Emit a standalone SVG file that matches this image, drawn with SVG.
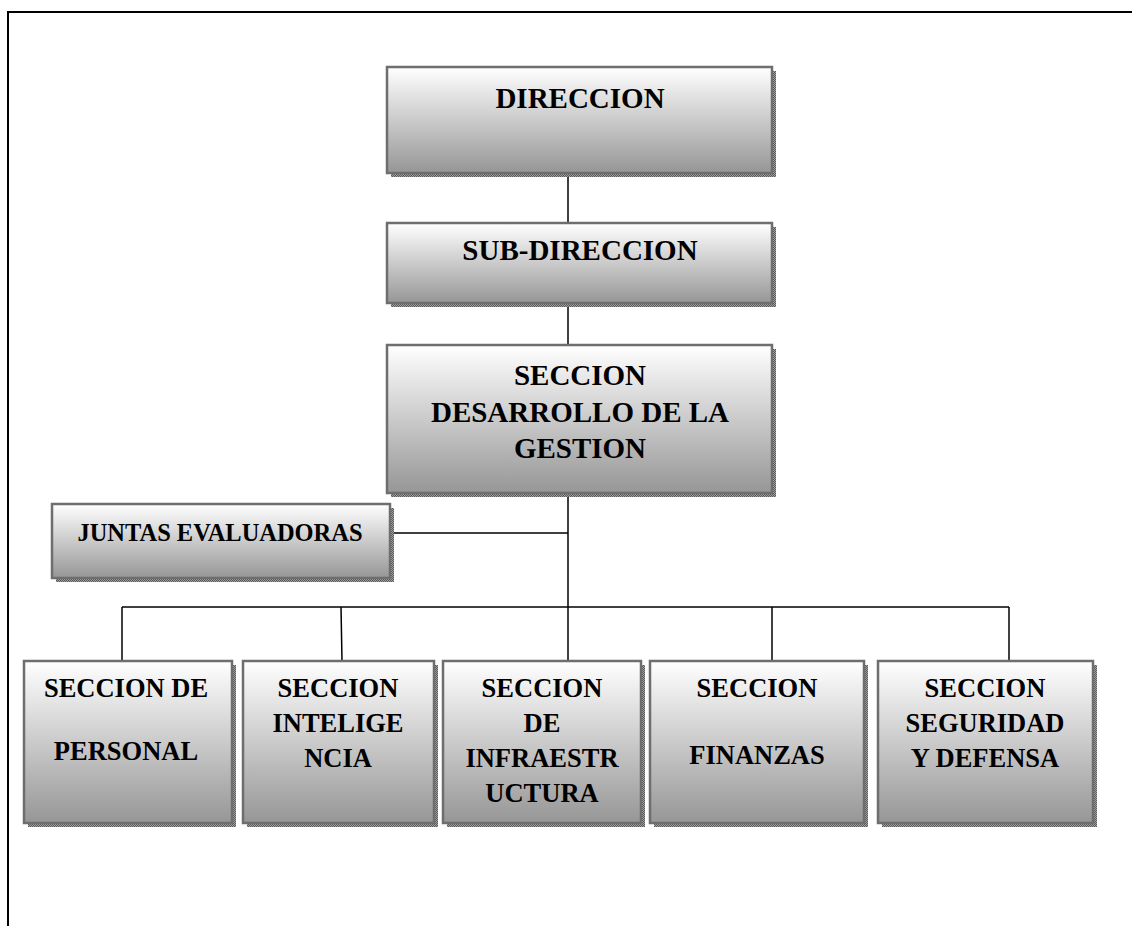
<svg xmlns="http://www.w3.org/2000/svg" width="1132" height="926" viewBox="0 0 1132 926">
  <defs>
    <linearGradient id="boxFill" x1="0" y1="0" x2="0" y2="1">
      <stop offset="0" stop-color="#ffffff"/>
      <stop offset="1" stop-color="#969696"/>
    </linearGradient>
    <pattern id="shadowDots" width="2" height="2" patternUnits="userSpaceOnUse">
      <rect width="2" height="2" fill="#a0a0a0"/>
      <rect width="1" height="1" fill="#5a5a5a"/>
      <rect x="1" y="1" width="1" height="1" fill="#5a5a5a"/>
    </pattern>
  </defs>
  <style>
    .shadow { fill: url(#shadowDots); }
    .box { fill: url(#boxFill); stroke: #6e6e6e; stroke-width: 2.5; }
    .lbl { font-family: "Liberation Serif", "Times New Roman", serif; font-weight: bold; fill: #000; text-anchor: middle; }
    .big { font-size: 29px; }
    .small { font-size: 26.5px; }
    .conn { stroke: #000; stroke-width: 1.5; fill: none; }
    .frame { stroke: #000; stroke-width: 2; fill: none; }
  </style>

  <rect width="1132" height="926" fill="#ffffff"/>

  <!-- page frame -->
  <path class="frame" d="M8,926 V12 H1132"/>

  <!-- connectors -->
  <g id="connectors">
    <line class="conn" x1="568" y1="173" x2="568" y2="223"/>
    <line class="conn" x1="568" y1="303" x2="568" y2="345"/>
    <line class="conn" x1="568" y1="493" x2="568" y2="607"/>
    <line class="conn" x1="390" y1="533" x2="568" y2="533"/>
    <line class="conn" x1="122" y1="607" x2="1009" y2="607"/>
    <line class="conn" x1="122" y1="607" x2="122" y2="661"/>
    <line class="conn" x1="341" y1="607" x2="342" y2="661"/>
    <line class="conn" x1="568" y1="607" x2="568" y2="661"/>
    <line class="conn" x1="772" y1="607" x2="772" y2="661"/>
    <line class="conn" x1="1009" y1="607" x2="1009" y2="661"/>
  </g>

  <g id="direccion">
    <rect class="shadow" x="391" y="71" width="385" height="106"/>
    <rect class="box" x="387" y="67" width="385" height="106"/>
    <text class="lbl big" x="580" y="108">DIRECCION</text>
  </g>

  <g id="sub-direccion">
    <rect class="shadow" x="391" y="227" width="385" height="80"/>
    <rect class="box" x="387" y="223" width="385" height="80"/>
    <text class="lbl big" x="580" y="260">SUB-DIRECCION</text>
  </g>

  <g id="seccion-desarrollo">
    <rect class="shadow" x="391" y="349" width="385" height="148"/>
    <rect class="box" x="387" y="345" width="385" height="148"/>
    <text class="lbl big" x="580" y="385">SECCION</text>
    <text class="lbl big" x="580" y="422">DESARROLLO DE LA</text>
    <text class="lbl big" x="580" y="458">GESTION</text>
  </g>

  <g id="juntas-evaluadoras">
    <rect class="shadow" x="56" y="508" width="338" height="74"/>
    <rect class="box" x="52" y="504" width="338" height="74"/>
    <text class="lbl" x="220" y="541" font-size="25" textLength="285" lengthAdjust="spacingAndGlyphs">JUNTAS EVALUADORAS</text>
  </g>

  <g id="seccion-personal">
    <rect class="shadow" x="28" y="665" width="208" height="162"/>
    <rect class="box" x="24" y="661" width="208" height="162"/>
    <text class="lbl small" x="126" y="697">SECCION DE</text>
    <text class="lbl small" x="126" y="760">PERSONAL</text>
  </g>

  <g id="seccion-inteligencia">
    <rect class="shadow" x="247" y="665" width="191" height="162"/>
    <rect class="box" x="243" y="661" width="191" height="162"/>
    <text class="lbl small" x="338" y="697">SECCION</text>
    <text class="lbl small" x="338" y="732">INTELIGE</text>
    <text class="lbl small" x="338" y="767">NCIA</text>
  </g>

  <g id="seccion-infraestructura">
    <rect class="shadow" x="447" y="665" width="198" height="162"/>
    <rect class="box" x="443" y="661" width="198" height="162"/>
    <text class="lbl small" x="542" y="697">SECCION</text>
    <text class="lbl small" x="542" y="732">DE</text>
    <text class="lbl small" x="542" y="767">INFRAESTR</text>
    <text class="lbl small" x="542" y="802">UCTURA</text>
  </g>

  <g id="seccion-finanzas">
    <rect class="shadow" x="654" y="665" width="214" height="162"/>
    <rect class="box" x="650" y="661" width="214" height="162"/>
    <text class="lbl small" x="757" y="697">SECCION</text>
    <text class="lbl small" x="757" y="764">FINANZAS</text>
  </g>

  <g id="seccion-seguridad">
    <rect class="shadow" x="882" y="665" width="215" height="162"/>
    <rect class="box" x="878" y="661" width="215" height="162"/>
    <text class="lbl small" x="985" y="697">SECCION</text>
    <text class="lbl small" x="985" y="732">SEGURIDAD</text>
    <text class="lbl small" x="985" y="767">Y DEFENSA</text>
  </g>
</svg>
